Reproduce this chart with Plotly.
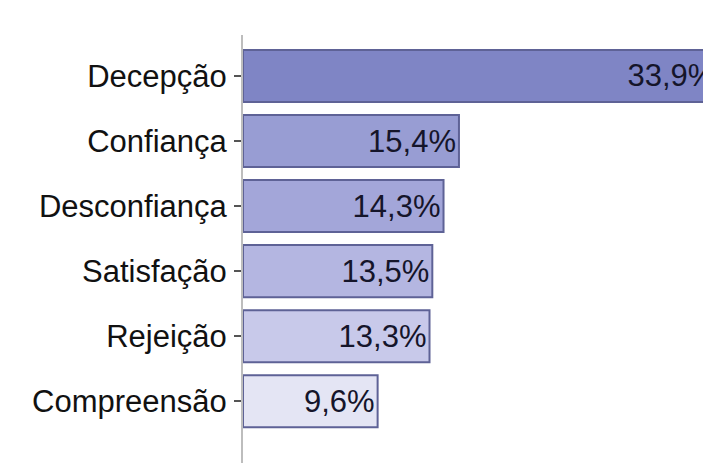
import plotly.graph_objects as go

categories = ["Decepção", "Confiança", "Desconfiança", "Satisfação", "Rejeição", "Compreensão"]
values = [33.9, 15.4, 14.3, 13.5, 13.3, 9.6]
labels = ["33,9%", "15,4%", "14,3%", "13,5%", "13,3%", "9,6%"]
fill_colors = ["#7f85c5", "#989dd3", "#a3a6d9", "#b4b6e1", "#c8c9ea", "#e4e5f4"]

FONT = "Liberation Sans, Arial, sans-serif"

fig = go.Figure(go.Bar(
    x=values,
    y=categories,
    orientation="h",
    text=labels,
    textposition="inside",
    insidetextanchor="end",
    textangle=0,
    textfont=dict(family=FONT, size=31, color="#15152a"),
    marker=dict(color=fill_colors, line=dict(color="#5e6296", width=2)),
    width=0.8,
))

# The original picture is cropped on the right: the figure is wider than the
# 703 px window, and the window cuts the longest bar and its label.
fig.update_layout(
    width=724, height=463,
    margin=dict(l=243, r=0, t=35, b=0, autoexpand=False),
    paper_bgcolor="white", plot_bgcolor="white",
    showlegend=False,
    font=dict(family=FONT, color="#111111"),
)
fig.update_xaxes(range=[0, 34.3], visible=False, showgrid=False, zeroline=False,
                 automargin=False)
fig.update_yaxes(
    type="category",
    categoryorder="array", categoryarray=categories,
    range=[5.95, -0.63],
    showline=True, linecolor="#bdbdbd", linewidth=2,
    ticks="outside", ticklen=7, tickcolor="#555555", tickwidth=1.5,
    ticklabelstandoff=1,
    tickfont=dict(family=FONT, size=31, color="#111111"),
    showgrid=False, zeroline=False, automargin=False,
)

fig.write_html(
    "out.html",
    config={"displayModeBar": False},
    post_script="document.body.style.margin='0';document.body.style.overflow='hidden';",
)
